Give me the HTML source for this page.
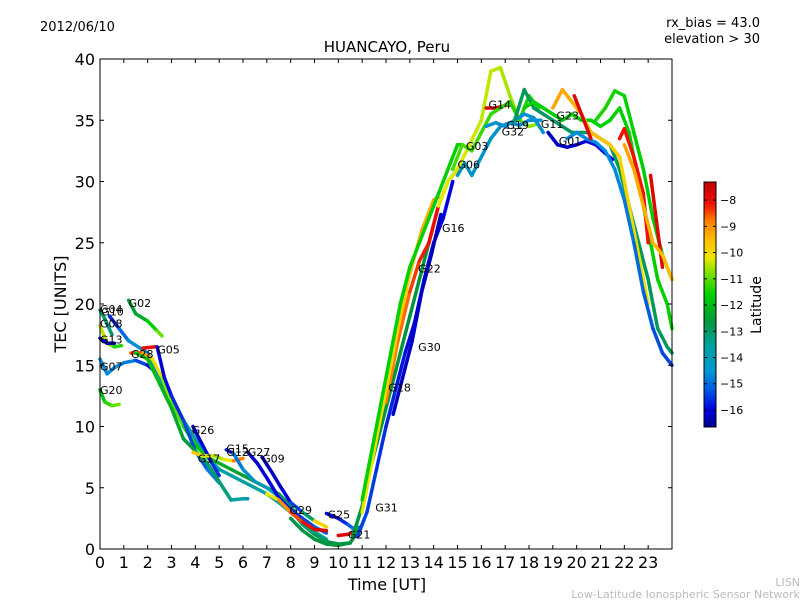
<!DOCTYPE html>
<html><head><meta charset="utf-8"><style>
body{margin:0;background:#fff;}
svg{display:block;font-family:"DejaVu Sans","Liberation Sans",sans-serif;}
</style></head><body>
<svg id="chart" width="800" height="600" viewBox="0 0 800 600">
<defs><linearGradient id="cmap" x1="0" y1="1" x2="0" y2="0">
<stop offset="0" stop-color="#000090"/><stop offset="0.07" stop-color="#0000e0"/><stop offset="0.16" stop-color="#0060e0"/>
<stop offset="0.23" stop-color="#0098d0"/><stop offset="0.33" stop-color="#00a0a0"/><stop offset="0.43" stop-color="#009840"/>
<stop offset="0.54" stop-color="#00d000"/><stop offset="0.62" stop-color="#70e000"/><stop offset="0.69" stop-color="#e8e800"/>
<stop offset="0.76" stop-color="#ffc000"/><stop offset="0.84" stop-color="#ff8000"/><stop offset="0.91" stop-color="#f01000"/><stop offset="1" stop-color="#c00000"/>
</linearGradient></defs>
<rect width="800" height="600" fill="#fff"/>
<text x="40" y="31" font-size="13">2012/06/10</text>
<text x="760" y="27" font-size="13" text-anchor="end">rx_bias = 43.0</text>
<text x="760" y="43" font-size="13" text-anchor="end">elevation &gt; 30</text>
<text x="387" y="52" font-size="15" text-anchor="middle">HUANCAYO, Peru</text>
<text x="387" y="590" font-size="16" text-anchor="middle">Time [UT]</text>
<text x="66" y="304" font-size="16" text-anchor="middle" transform="rotate(-90 66 304)">TEC [UNITS]</text>
<text x="800" y="586" font-size="11" fill="#bbb" text-anchor="end">LISN</text>
<text x="800" y="598" font-size="11" fill="#bbb" text-anchor="end">Low-Latitude Ionospheric Sensor Network</text>
<g id="tracks"></g>
<g id="labels"></g>
<rect x="100" y="59" width="572" height="490" fill="none" stroke="#000" stroke-width="1"/>
<g id="axes"></g>
<rect x="704" y="182" width="12" height="245" fill="url(#cmap)" stroke="#000" stroke-width="1"/>
<g id="cbticks"></g>
<text x="761" y="305" font-size="14" text-anchor="middle" transform="rotate(-90 761 305)">Latitude</text>
</svg>
<script>
const xTicks=[0,1,2,3,4,5,6,7,8,9,10,11,12,13,14,15,16,17,18,19,20,21,22,23];
const yTicks=[0,5,10,15,20,25,30,35,40];
const cbTicks=[-8,-9,-10,-11,-12,-13,-14,-15,-16];
const trackNames=["G04","G08","G13","G07","G20","G02","G10","G28","G05","G05b","G10b","G26","G17","G15","G27","G09","G29","G25","G21","G24","G31","G18","G22","G16","G30","G12","G14","G14b","G03","G06","G32","G19","G11","G23","G01","G33","G34","G35","G36","G37","G38"];
const trackTimes=[
[0,0.2,0.5],[0,0.3,0.6,0.9],[0,0.3,0.6],[0,0.3,0.6,1.0,1.5,2.0,2.3],[0,0.2,0.5,0.8],
[1.2,1.5,2.0,2.4,2.6],
[0.4,0.8,1.2,1.6,2,2.5,3,3.5,4,4.5,5,5.5,6,6.5,7,7.5,8,8.5,9,9.5],
[1.3,1.8,2.2,2.6,3,3.5,4,4.5,5,5.5,6,6.5,7,7.5,8,8.5,9,9.5,10,10.5],
[1.8,2.3],[2.4,2.7,3,3.5,4,4.5,5],
[1.5,2,2.5,3,3.5,4,4.5,5,5.5,6,6.2],
[3.9,4.3,4.7,5],[3.9,4.3,4.8,5.2,5.6,6.0],
[5.3,5.6,6,6.5,7,7.5,8,8.5,9,9.5,10],
[6.2,6.6,7,7.5,8,8.5,9,9.5],[6.8,7.2,7.6,8,8.5,9,9.5],
[7,7.5,8,8.5,9,9.5],[9.5,10,10.4,10.6,10.8],[10,10.4,10.8],
[8,8.5,9,9.5,10,10.5,11],
[10.8,11.2,11.6,12,12.4,12.8,13.2,13.6,14,14.4,14.8],
[10.6,11,11.4,11.8,12.2,12.6,13,13.4,13.8,14.2,14.6,15],
[12,12.5,13,13.4,13.8,14.2],
[11,11.5,12,12.5,13,13.5,14,14.2],
[12.3,12.7,13.1,13.5,13.9,14.3],
[11,11.4,11.8,12.2,12.6,13,13.4,13.8,14.2,14.6,15,15.2],
[14.2,14.6,15,15.5,16,16.4,16.8,17.2,17.6,18,18.4],
[16.2,16.6,17],
[14.8,15.2,15.6,16,16.4,16.8,17.2,17.6,18,18.4],
[15,15.3,15.6,16,16.4,16.8,17.2,17.6,18,18.5],
[16.2,16.6,17,17.4,17.8,18.2,18.6],
[17.4,17.8,18.2,18.6,19,19.4,19.8,20.2,20.6,21,21.4,21.8,22.2,22.6,23,23.4,23.8,24],
[17.8,18.2,18.6,19,19.4,19.8,20.2,20.6,21,21.4,21.8,22.2,22.6,23,23.4,23.8,24],
[19,19.4,19.8,20.2,20.6,21,21.4,21.8,22.2,22.6,23],
[18.8,19.2,19.6,20,20.4,20.8,21.2,21.5],
[19.6,20,20.4,20.8,21.2,21.6,22,22.4,22.8,23.2,23.6,24],
[20.8,21.2,21.6,22,22.4,22.8,23.2,23.6,24],
[19.9,20.2,20.6],[21.8,22,22.4,22.8,23],[23.1,23.4,23.6],
[22,22.4,22.8,23.2,23.6,24]];
const trackTec=[
[19.5,18.8,17.5],[18.2,16.8,16.5,16.6],[17.2,16.8,16.8],[15.5,14.3,14.8,15.2,15.4,15,14.5],[13,12,11.7,11.8],
[20.3,19.2,18.6,17.8,17.4],
[19,18,17,16.5,16,14,12,10.5,9,7.5,6.5,6,5.5,5,4.5,3.8,3,2.2,1.4,0.8],
[16,16,15.5,14,12,10,8.5,7.5,7,6.5,6,5.5,5,4.5,3.5,2,1.2,0.6,0.4,0.5],
[16.4,16.5],[16.5,14,12.5,10.5,8,6.5,5.4],
[16,15.5,13.5,11.5,9,8,7,5.5,4,4.1,4.1],
[10,8.5,7,6],[7.9,7.6,7.6,7.3,7.2,7.4],
[8.1,7.8,6.5,5.5,5,4.3,3.2,2,1.2,0.6,0.4],
[7.9,7,5.8,4.2,3.2,2.5,1.8,1.3],[7.5,6.3,5,3.8,3,2.3,1.8],
[4.5,4,3,2.2,1.6,1.5],[2.9,2.5,2,1.7,1.8],[1.1,1.2,1.4],
[2.5,1.5,0.8,0.4,0.3,0.5,2],
[1,3,6.5,10,13,16,18.5,22,25,27,30],
[1,3.5,7,10,13,16,19,22,25,28,30,31],
[12,17,21,23.5,25,28],
[3,8,13,18,22.5,26,28.5,28.7],
[11,14,17,21,24,27.3],
[4,8,12,16,20,23,25,27,29,31,33,33],
[28,30,31,33,35,39,39.3,37,35,34.5,34.7],
[36,36,36.2],
[31,33,32.5,34,35.5,36,36.5,35,37,36],
[30.5,31.5,30.5,32,33.5,34.5,34.8,34.6,35,35],
[34.5,34.8,34.5,35,35.5,35.2,34],
[35,37.5,36,35.5,35,34.5,34,34,34,33.5,33,31,28,25,22,18,16.5,16],
[36,36.5,36,35.5,35,35.5,35,35,34.5,35,36,34,30,26,22,20,18],
[36,37.5,36.5,35.5,34,33.5,33,32,28,24,20],
[34,33,32.8,33,33.3,33,32.3,31.8],
[33.5,34,33.5,33.2,32.5,31,28.5,25,21,18,16,15],
[35,36,37.4,37,34,31,27,24,22],
[37,35.5,33.5],[33.5,34.3,32,29,25],[30.5,26,23],
[33,31,28,25,24,22]];
const trackLat=[
[-13.5,-13.5,-13.5],[-10.5,-11,-11.5,-12],[-16.3,-16.3,-16.3],[-15,-15,-15,-15,-15.2,-15.8,-16.2],[-12.5,-12,-11.5,-11],
[-13,-12.8,-12.5,-11.5,-11],
[-16,-15.5,-15,-14.8,-14.7,-14.6,-14.5,-14.4,-14.3,-14.2,-14.1,-14,-14,-14,-14,-14,-14,-14,-14,-14],
[-8.5,-9,-10,-10.8,-11.2,-11.5,-12,-12.3,-12.5,-12.7,-12.8,-13,-13,-13.2,-13.3,-13.4,-13.5,-13.5,-13.5,-13.5],
[-8.3,-8.3],[-16.2,-16,-15.8,-15.6,-15.4,-15.2,-15],
[-12,-12.2,-12.4,-12.6,-12.8,-13,-13.2,-13.5,-13.8,-14.2,-14.5],
[-16.3,-16.1,-15.8,-15.5],[-10,-10.3,-10.8,-11,-10,-8],
[-16,-15.5,-14.8,-14.5,-14.2,-14,-13.8,-13.6,-13.4,-13.2,-13],
[-16.3,-16.2,-16.1,-16,-15.8,-15.6,-15.4,-15.2],[-16.3,-16.3,-16.2,-16,-15,-12,-8.5],
[-11,-10,-8.5,-9,-8,-8],[-16.2,-16,-15.5,-15.2,-15],[-8,-8,-8.2],
[-13,-13,-13,-13,-13,-13,-13],
[-15.5,-15.5,-15.6,-15.7,-15.8,-15.9,-16,-16,-16,-16,-16],
[-13,-13,-13,-13,-13,-13,-13,-13,-13,-13,-13,-13],
[-9,-9,-8.8,-8.6,-8.5,-8.3],
[-10.5,-10.4,-10.3,-10.2,-10,-9.8,-9.6,-9.5],
[-16.2,-16.2,-16.2,-16.2,-16.3,-16.3],
[-12,-12,-12,-12,-12,-12,-12,-12,-12,-12,-12,-12],
[-10.5,-10.5,-10.6,-10.6,-10.7,-10.7,-10.8,-10.9,-11,-11,-11],
[-8,-8,-8],
[-11.5,-11.5,-11.5,-11.6,-11.6,-11.7,-11.7,-11.8,-11.8,-11.8],
[-14.5,-14.5,-14.6,-14.6,-14.7,-14.7,-14.8,-14.8,-14.9,-14.9],
[-14.8,-14.8,-14.8,-14.8,-14.8,-14.8,-14.8],
[-13.3,-13.3,-13.3,-13.3,-13.3,-13.3,-13.3,-13.3,-13.3,-13.3,-13.3,-13.3,-13.3,-13.3,-13.3,-13.3,-13.3,-13.3],
[-12,-12,-12,-12,-12,-12,-12,-12,-12,-12,-12,-12,-12,-12,-12,-12,-12],
[-9.5,-9.6,-9.7,-9.8,-9.9,-10,-10.1,-10.2,-10.3,-10.4,-10.5],
[-16.3,-16.3,-16.2,-16.1,-16,-16,-16,-16],
[-15,-15,-15,-15,-15,-15,-15.1,-15.2,-15.3,-15.4,-15.5,-15.5],
[-11.8,-11.8,-11.9,-11.9,-12,-12,-12.1,-12.2,-12.3],
[-8,-8,-8],[-8.5,-8.5,-8.5,-8.5,-8.5],[-8,-8,-8],
[-9.5,-9.6,-9.7,-9.8,-9.9,-10]];
const labelNames=["G04","G10","G02","G08","G13","G28","G05","G07","G20","G26","G17","G15","G12","G27","G09","G29","G25","G21","G31","G18","G30","G22","G16","G06","G03","G14","G19","G32","G11","G23","G01"];
const labelT=[0,0.05,1.2,0,0,1.3,2.4,0,0,3.85,4.1,5.3,5.3,6.2,6.8,7.95,9.55,10.4,11.55,12.1,13.35,13.35,14.35,15.0,15.35,16.3,17.05,16.85,18.5,19.15,19.25];
const labelV=[19.6,19.4,20.1,18.4,17.1,15.9,16.3,14.9,13,9.7,7.4,8.2,7.9,7.9,7.4,3.2,2.8,1.2,3.4,13.2,16.5,22.9,26.2,31.4,32.9,36.3,34.6,34.1,34.7,35.4,33.3];

const X=t=>100+t*572/24, Y=v=>549-v*12.25;
const NS="http://www.w3.org/2000/svg";
const cLat=[-16.65,-16,-15,-14,-13,-12,-11,-10.5,-10,-9,-8.5,-7.31];
const cRGB=[[0,0,144],[0,0,224],[0,140,220],[0,160,160],[0,150,64],[0,208,0],[140,228,0],[232,232,0],[255,192,0],[255,128,0],[240,16,0],[192,0,0]];
function cmap(lat){
 if(lat<=cLat[0]) return `rgb(${cRGB[0]})`;
 for(let i=1;i<cLat.length;i++){ if(lat<=cLat[i]){const f=(lat-cLat[i-1])/(cLat[i]-cLat[i-1]);
  const c=cRGB[i-1].map((v,k)=>Math.round(v+(cRGB[i][k]-v)*f)); return `rgb(${c})`;}}
 return `rgb(${cRGB[cRGB.length-1]})`;}
const tg=document.getElementById('tracks');
trackTimes.forEach((ts,i)=>{
 const g=document.createElementNS(NS,'g');
 
 
 for(let j=0;j<ts.length-1;j++){
  const l=document.createElementNS(NS,'line');
  l.setAttribute('x1',X(ts[j]));l.setAttribute('y1',Y(trackTec[i][j]));
  l.setAttribute('x2',X(ts[j+1]));l.setAttribute('y2',Y(trackTec[i][j+1]));
  l.setAttribute('stroke',cmap((trackLat[i][j]+trackLat[i][j+1])/2));
  l.setAttribute('stroke-width','3.5');l.setAttribute('stroke-linecap','round');
  
  
  g.appendChild(l);}
 tg.appendChild(g);});
const lg=document.getElementById('labels');
labelNames.forEach((n,i)=>{
 const t=document.createElementNS(NS,'text');
 t.setAttribute('x',X(labelT[i]));t.setAttribute('y',Y(labelV[i])+4);
 t.setAttribute('font-size','11');t.textContent=n;
 
 
 lg.appendChild(t);});
const ag=document.getElementById('axes');
xTicks.forEach(v=>{
 const x=X(v);
 ag.insertAdjacentHTML('beforeend',`<line x1="${x}" y1="549" x2="${x}" y2="545" stroke="#000"/><line x1="${x}" y1="59" x2="${x}" y2="63" stroke="#000"/>`);
 const t=document.createElementNS(NS,'text');
 t.setAttribute('x',x);t.setAttribute('y',568);t.setAttribute('font-size','16');t.setAttribute('text-anchor','middle');t.textContent=v;
 
 
 ag.appendChild(t);});
yTicks.forEach(v=>{
 const y=Y(v);
 ag.insertAdjacentHTML('beforeend',`<line x1="100" y1="${y}" x2="104" y2="${y}" stroke="#000"/><line x1="672" y1="${y}" x2="668" y2="${y}" stroke="#000"/>`);
 const t=document.createElementNS(NS,'text');
 t.setAttribute('x',95);t.setAttribute('y',y+6);t.setAttribute('font-size','16');t.setAttribute('text-anchor','end');t.textContent=v;
 
 
 ag.appendChild(t);});
const cg=document.getElementById('cbticks');
cbTicks.forEach(v=>{
 const y=182+(-7.31-v)*245/9.34;
 cg.insertAdjacentHTML('beforeend',`<line x1="704" y1="${y}" x2="707" y2="${y}" stroke="#000"/><line x1="716" y1="${y}" x2="713" y2="${y}" stroke="#000"/>`);
 const t=document.createElementNS(NS,'text');
 t.setAttribute('x',720);t.setAttribute('y',y+4);t.setAttribute('font-size','11');t.textContent='\u2212'+(-v);
 
 
 cg.appendChild(t);});
</script>
</body></html>
